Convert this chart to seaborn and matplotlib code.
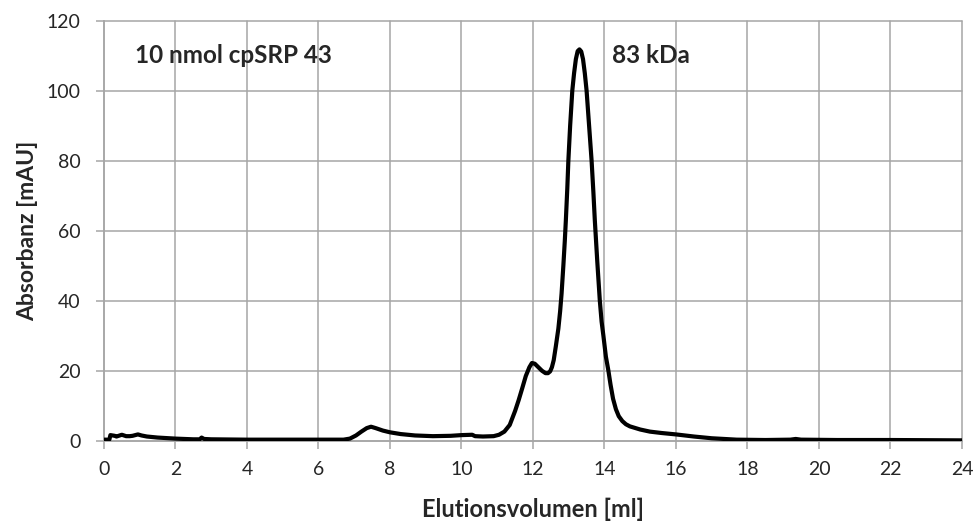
import numpy as np
import pandas as pd
import matplotlib
matplotlib.use("Agg")
import matplotlib.pyplot as plt
import seaborn as sns

# -------------------------------
# Data
# -------------------------------
volume_ml = [
    0.00, 0.15, 0.18, 0.30, 0.35, 0.50, 0.62, 0.72, 0.80, 0.95, 1.05, 1.20,
    1.50, 2.00, 2.50, 2.68, 2.73, 2.80, 3.00, 4.00, 5.00, 6.00, 6.70, 6.88,
    7.05, 7.20, 7.35, 7.47, 7.60, 7.80, 8.00, 8.30, 8.70, 9.20, 9.70, 10.00,
    10.30, 10.38, 10.60, 10.90, 11.05, 11.20, 11.35, 11.50, 11.60, 11.70,
    11.80, 11.90, 11.97, 12.05, 12.15, 12.25, 12.35, 12.42, 12.48, 12.53,
    12.58, 12.64, 12.71, 12.76, 12.80, 12.85, 12.89, 12.92, 12.96, 12.99,
    13.04, 13.10, 13.15, 13.20, 13.25, 13.30, 13.35, 13.40, 13.45, 13.50,
    13.57, 13.64, 13.69, 13.73, 13.80, 13.87, 13.92, 13.97, 14.04, 14.11,
    14.17, 14.24, 14.32, 14.40, 14.50, 14.60, 14.71, 15.00, 15.27, 15.60,
    16.00, 16.50, 17.00, 17.70, 18.50, 19.20, 19.35, 19.50, 20.50, 22.00,
    24.00,
]
absorbance_mau = [
    0.3, 0.3, 1.6, 1.4, 1.2, 1.7, 1.3, 1.3, 1.4, 1.8, 1.5, 1.2,
    0.9, 0.6, 0.4, 0.4, 0.9, 0.5, 0.4, 0.3, 0.3, 0.3, 0.3, 0.6,
    1.5, 2.6, 3.6, 4.0, 3.6, 2.9, 2.4, 1.9, 1.5, 1.3, 1.4, 1.6,
    1.7, 1.3, 1.2, 1.3, 1.7, 2.6, 4.5, 8.5, 11.6, 15.0,
    18.5, 21.0, 22.2, 22.0, 21.0, 20.0, 19.3, 19.3, 19.8, 21.0,
    23.0, 27.0, 32.0, 37.0, 42.0, 50.0, 57.0, 63.0, 72.0, 80.0,
    90.0, 100.0, 105.0, 109.0, 111.3, 111.8, 111.2, 109.0, 105.0, 100.0,
    90.0, 80.0, 71.0, 63.0, 51.0, 40.0, 34.0, 30.0, 24.0, 20.0,
    16.0, 12.0, 9.0, 7.0, 5.6, 4.7, 4.1, 3.2, 2.6, 2.2,
    1.8, 1.2, 0.7, 0.3, 0.2, 0.3, 0.5, 0.3, 0.2, 0.2,
    0.1,
]

x_ticks = list(range(0, 25, 2))
y_ticks = list(range(0, 121, 20))

sample_label = "10 nmol cpSRP 43"
peak_label = "83 kDa"

df = pd.DataFrame({"volume": volume_ml, "absorbance": absorbance_mau})

# -------------------------------
# Plot
# -------------------------------
sns.set_style("white")
plt.rcParams["font.family"] = ["Lato", "DejaVu Sans"]

grid_color = "#a6a6a6"

fig = plt.figure(figsize=(9.79, 5.21), dpi=100)
ax = fig.add_axes([0.1062, 0.1541, 0.8764, 0.8062])

sns.lineplot(data=df, x="volume", y="absorbance", ax=ax,
             color="black", linewidth=3.0, solid_joinstyle="round",
             solid_capstyle="round", zorder=3)

ax.set_xlim(0, 24)
ax.set_ylim(0, 120)
ax.set_xticks(x_ticks)
ax.set_yticks(y_ticks)

ax.grid(True, color=grid_color, linewidth=1.1)
for line in ax.get_xgridlines() + ax.get_ygridlines():
    line.set_clip_on(False)

for side in ["top", "right"]:
    ax.spines[side].set_visible(False)
for side in ["left", "bottom"]:
    ax.spines[side].set_color(grid_color)
    ax.spines[side].set_linewidth(1.1)

ax.tick_params(axis="x", direction="out", length=5.5, width=1.1,
               color=grid_color, labelsize=14, pad=9, bottom=True)
ax.tick_params(axis="y", direction="out", length=6, width=1.1,
               color=grid_color, labelsize=14, pad=11, left=True)

ax.set_xlabel("Elutionsvolumen [ml]", fontsize=17, fontweight="bold", labelpad=14)
ax.set_ylabel("Absorbanz [mAU]", fontsize=16.5, fontweight="bold", labelpad=6)

ax.text(0.87, 110, sample_label, fontsize=17.5, fontweight="bold", va="center")
ax.text(14.2, 110, peak_label, fontsize=17.5, fontweight="bold", va="center")

fig.savefig("out.png", dpi=100)
